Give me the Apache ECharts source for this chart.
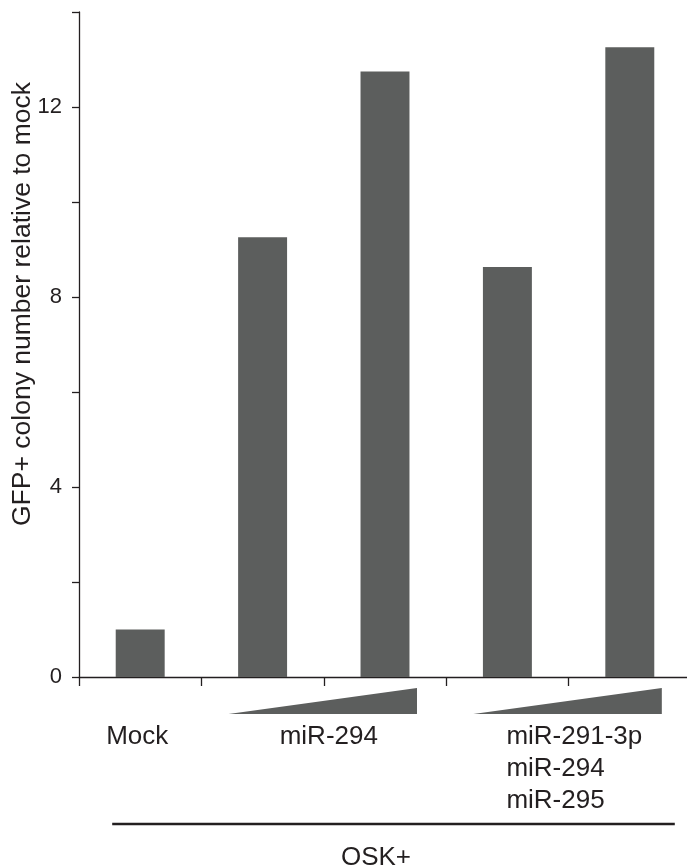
<!DOCTYPE html>
<html>
<head>
<meta charset="utf-8">
<title>GFP+ colonies</title>
<script src="https://cdn.jsdelivr.net/npm/echarts@6/dist/echarts.min.js"></script>
<style>
  html, body { margin: 0; padding: 0; background: #fff; overflow: hidden; }
  #chart { width: 700px; height: 866px; }
</style>
</head>
<body>
<div id="chart"></div>
<script>
const categories = ['Mock', 'miR-294 low', 'miR-294 high', 'miR-291-3p/294/295 low', 'miR-291-3p/294/295 high'];
const values = [1.0, 9.26, 12.75, 8.63, 13.26];
const yTickLabels = [0, 4, 8, 12];
const groupLabels = ['Mock', 'miR-294', 'miR-291-3p\nmiR-294\nmiR-295'];
const baseLabel = 'OSK+';
const yAxisName = 'GFP+ colony number relative to mock';

const ink = '#231f20';
const barColor = '#5c5e5d';
const font = "'Liberation Sans', Arial, sans-serif";

const chart = echarts.init(document.getElementById('chart'));

// the axis runs past the right edge of the window, as in the figure
chart.setOption({
    animation: false,
    grid: { left: 79, top: 12, width: 612, bottom: 189 },
    xAxis: {
        type: 'category',
        data: categories,
        axisLine: { show: true, lineStyle: { color: ink, width: 1.3 } },
        axisTick: { show: true, alignWithLabel: false, interval: 0, length: 9, lineStyle: { color: ink, width: 1.3 } },
        axisLabel: { show: false }
    },
    yAxis: {
        type: 'value',
        min: 0,
        max: 14,
        interval: 2,
        splitLine: { show: false },
        axisLine: { show: true, lineStyle: { color: ink, width: 1.3 } },
        axisTick: { show: true, length: 7, lineStyle: { color: ink, width: 1.3 } },
        axisLabel: {
            margin: 17,
            color: ink,
            fontSize: 22,
            fontFamily: "'Liberation Sans Narrow', 'Liberation Sans', sans-serif",
            formatter: v => yTickLabels.includes(v) ? String(v) : ''
        }
    },
    series: [{
        type: 'bar',
        data: values,
        barWidth: '40%',
        itemStyle: { color: barColor }
    }]
});

// annotations under the axis, placed from the axis pixel positions
const cx = i => chart.convertToPixel({ xAxisIndex: 0 }, i);
const y0 = chart.convertToPixel({ yAxisIndex: 0 }, 0);

const wedge = (a, b) => ({
    type: 'polygon',
    shape: { points: [[cx(a) - 34, y0 + 37], [cx(b) + 32, y0 + 11], [cx(b) + 32, y0 + 37]] },
    style: { fill: barColor }
});
const label = (text, x, align) => ({
    type: 'text',
    x: x,
    y: y0 + 44,
    style: {
        text: text, fill: ink, font: '26px ' + font,
        align: align, verticalAlign: 'top', lineHeight: 32
    }
});

chart.setOption({
    graphic: [
        wedge(1, 2),
        wedge(3, 4),
        label(groupLabels[0], cx(0) - 3, 'center'),
        label(groupLabels[1], (cx(1) + cx(2)) / 2 + 5, 'center'),
        label(groupLabels[2], cx(3) - 1, 'left'),
        {
            type: 'line',
            shape: { x1: cx(0) - 28, y1: y0 + 147, x2: cx(4) + 45, y2: y0 + 147 },
            style: { stroke: ink, lineWidth: 2.5 }
        },
        {
            type: 'text',
            x: (cx(0) + cx(4)) / 2 - 9,
            y: y0 + 168,
            style: { text: baseLabel, fill: ink, font: '26px ' + font, align: 'center', verticalAlign: 'top' }
        },
        {
            type: 'text',
            x: 9,
            y: 304,
            rotation: Math.PI / 2,
            style: { text: yAxisName, fill: ink, font: '26.5px ' + font, align: 'center', verticalAlign: 'top' }
        }
    ]
});
</script>
</body>
</html>
